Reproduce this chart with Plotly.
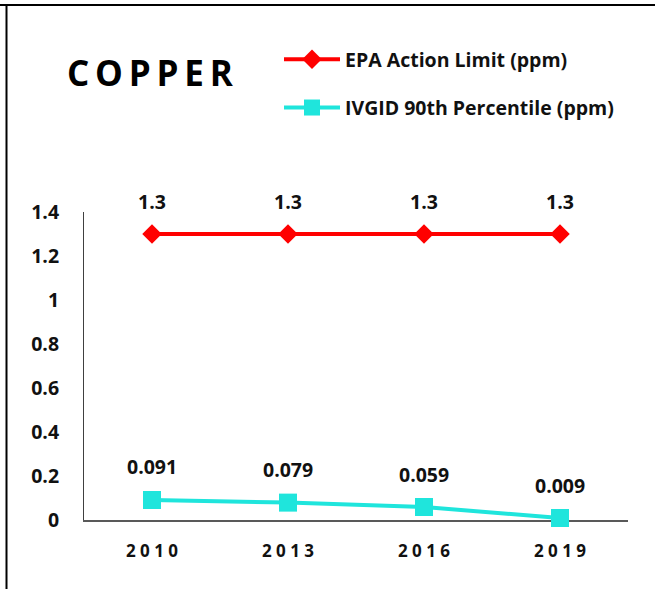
import plotly.graph_objects as go

years = ["2010", "2013", "2016", "2019"]
year_labels = ["2 0 1 0", "2 0 1 3", "2 0 1 6", "2 0 1 9"]
epa_limit = [1.3, 1.3, 1.3, 1.3]
ivgid_p90 = [0.091, 0.079, 0.059, 0.009]
epa_text = ["1.3", "1.3", "1.3", "1.3"]
ivgid_text = ["0.091", "0.079", "0.059", "0.009"]

W, H = 655, 589
ML, MR, MT, MB = 84, 27, 212, 69
PW, PH = W - ML - MR, H - MT - MB

def px_x(x):
    return (x - ML) / PW

def px_y(y):
    return (H - MB - y) / PH

RED = "#FF0000"
CYAN = "#1FE5DC"
FONT = "Open Sans"
TXT = "#111111"

fig = go.Figure()
fig.add_trace(go.Scatter(
    x=years, y=epa_limit, name="EPA Action Limit (ppm)", mode="lines+markers",
    line=dict(color=RED, width=4), marker=dict(symbol="diamond", size=15, color=RED),
    legendgroup="a", cliponaxis=False))
fig.add_trace(go.Scatter(
    x=years, y=ivgid_p90, name="IVGID 90th Percentile (ppm)", mode="lines+markers",
    line=dict(color=CYAN, width=4), marker=dict(symbol="square", size=18, color=CYAN),
    legendgroup="b", cliponaxis=False))

annotations = []
for ys, ts in ((epa_limit, epa_text), (ivgid_p90, ivgid_text)):
    for i, (y, t) in enumerate(zip(ys, ts)):
        annotations.append(dict(x=i, y=y, xref="x", yref="y", text=t, showarrow=False,
                                yshift=33, font=dict(family=FONT, size=19.5, color=TXT, weight="bold")))

annotations.append(dict(x=px_x(150), y=px_y(72), xref="paper", yref="paper",
                        text="C\u2009O\u2009P\u2009P\u2009E\u2009R", showarrow=False,
                        xanchor="center", yanchor="middle",
                        font=dict(family="Open Sans", size=35, color="#000", weight=700)))

shapes = [
    dict(type="line", xref="paper", yref="paper", x0=px_x(0), x1=px_x(W), y0=px_y(5), y1=px_y(5),
         line=dict(color="#000", width=2)),
    dict(type="line", xref="paper", yref="paper", x0=px_x(6.5), x1=px_x(6.5), y0=px_y(5), y1=px_y(H),
         line=dict(color="#000", width=2)),
]

fig.update_layout(
    width=W, height=H,
    margin=dict(l=ML, r=MR, t=MT, b=MB),
    paper_bgcolor="white", plot_bgcolor="white",
    showlegend=True,
    legend=dict(x=px_x(279), y=px_y(40), xanchor="left", yanchor="top",
                font=dict(family=FONT, size=19.5, color=TXT, weight="bold"),
                traceorder="grouped", tracegroupgap=20, bgcolor="rgba(0,0,0,0)",
                itemwidth=56),
    annotations=annotations,
    shapes=shapes,
    xaxis=dict(type="category", range=[-0.5, 3.5], tickmode="array", tickvals=years,
               ticktext=year_labels, showgrid=False, zeroline=False,
               showline=True, linecolor="#595959", linewidth=2, layer="below traces",
               tickfont=dict(family=FONT, size=17, color=TXT, weight="bold"),
               ticklabelstandoff=15),
    yaxis=dict(range=[0, 1.4], dtick=0.2, showgrid=False, zeroline=False,
               showline=True, linecolor="#404040", linewidth=1, layer="below traces",
               tickfont=dict(family=FONT, size=19.5, color=TXT, weight="bold"),
               ticklabelstandoff=20),
)

fig.write_html("out.html", config={"displayModeBar": False},
               post_script="document.body.style.margin='0';document.body.style.padding='0';")
